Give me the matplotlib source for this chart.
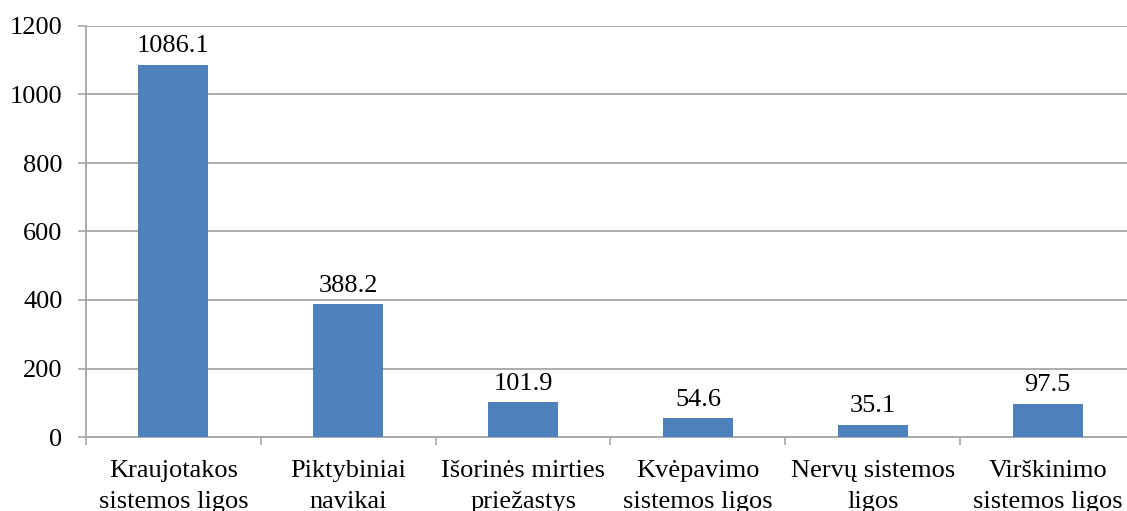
import matplotlib.pyplot as plt
import numpy as np

categories = ["Kraujotakos\nsistemos ligos", "Piktybiniai\nnavikai",
              "Išorinės mirties\npriežastys", "Kvėpavimo\nsistemos ligos",
              "Nervų sistemos\nligos", "Virškinimo\nsistemos ligos"]
values = [1086.1, 388.2, 101.9, 54.6, 35.1, 97.5]
yticks = [0, 200, 400, 600, 800, 1000, 1200]

plt.rcParams['font.family'] = ['Liberation Serif', 'DejaVu Serif']
fs = 19

W, H = 1127, 511
fig = plt.figure(figsize=(W / 100, H / 100), dpi=100)
left, right, bottom, top = 86, 1135, 437, 26
ax = fig.add_axes([left / W, 1 - bottom / H, (right - left) / W, (bottom - top) / H])

x = np.arange(len(values))
ax.bar(x, values, width=0.4, color='#4F81BD', zorder=3)
for xi, v in zip(x, values):
    ax.text(xi, v + 22, f"{v:.1f}", ha='center', va='bottom', fontsize=fs)

ax.set_xlim(-0.5, len(values) - 0.5)
ax.set_ylim(0, 1200)
ax.set_yticks(yticks)
ax.set_yticklabels([str(t) for t in yticks], fontsize=fs)
ax.grid(axis='y', color='#A6A6A6', lw=1.3, zorder=0)

# category labels at centers, tick marks at boundaries
ax.set_xticks(x)
ax.set_xticklabels(categories, fontsize=fs, linespacing=1.55)
ax.tick_params(axis='x', length=0, pad=16.4)
ax.set_xticks(np.arange(len(values) + 1) - 0.5, minor=True)
ax.tick_params(axis='x', which='minor', length=6, color='#A6A6A6', width=1.2)
ax.tick_params(axis='y', length=6, color='#A6A6A6', width=1.2, pad=11)

for s in ['top', 'right']:
    ax.spines[s].set_visible(False)
for s in ['left', 'bottom']:
    ax.spines[s].set_color('#A6A6A6')
    ax.spines[s].set_linewidth(1.3)

fig.savefig('out.png', dpi=100)
